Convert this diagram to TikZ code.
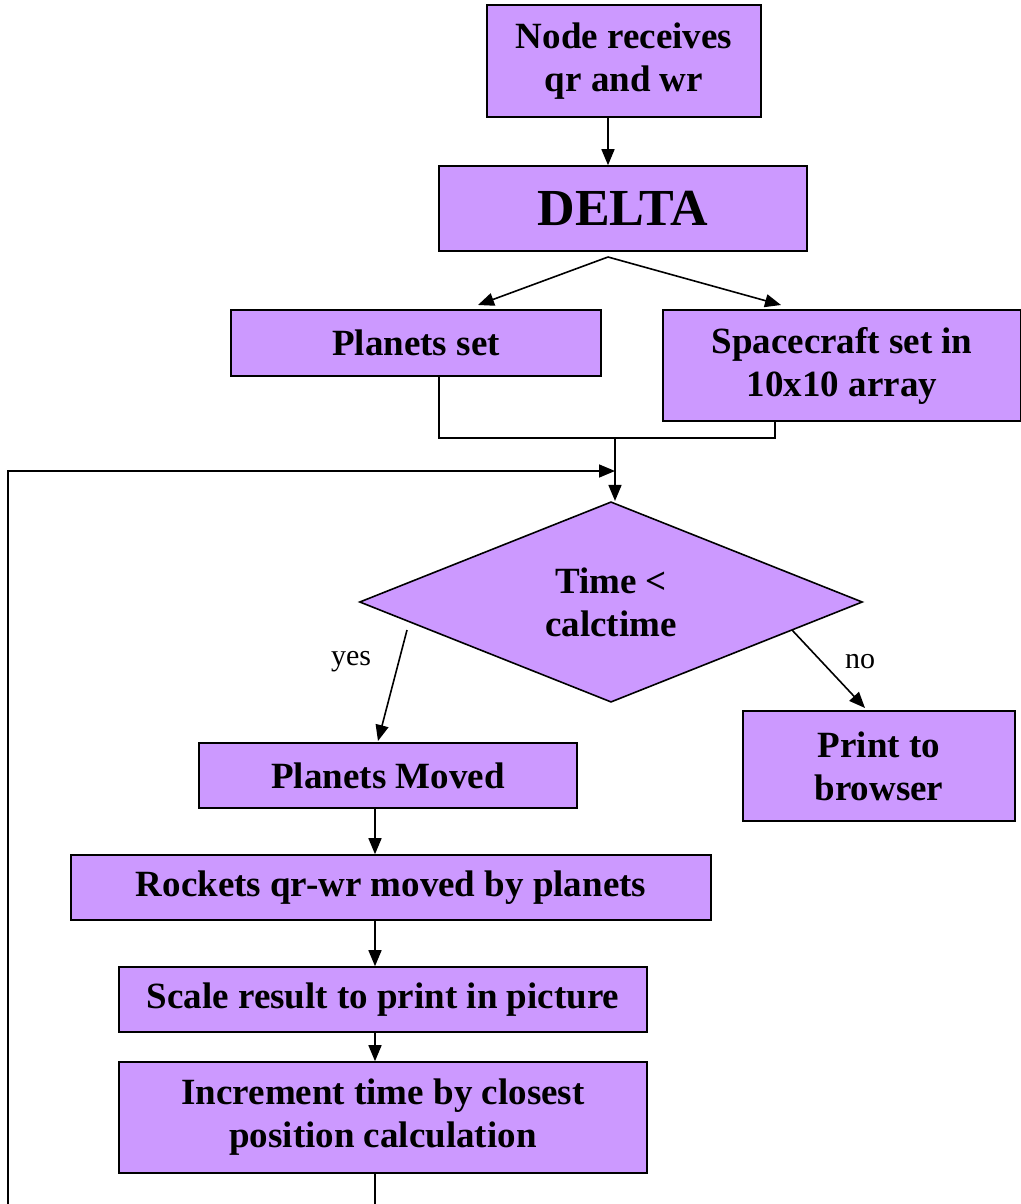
\documentclass[tikz,border=0pt]{standalone}
\usepackage{fontspec}
\setmainfont{Liberation Serif}
\usetikzlibrary{shapes.geometric, arrows.meta}

\definecolor{lilac}{RGB}{204,153,255}

\begin{document}
\begin{tikzpicture}[x=0.5pt, y=-0.5pt,
  box/.style={draw, line width=0.8pt, fill=lilac, align=center, inner sep=0pt,
    font=\bfseries\fontsize{18.5}{21.5}\selectfont},
  arr/.style={line width=0.8pt, -{Triangle[length=8pt, width=6.5pt]}},
  wire/.style={line width=0.8pt},
  lbl/.style={font=\fontsize{15}{17}\selectfont}]
\useasboundingbox (0,0) rectangle (1021,1204);
\clip (0,0) rectangle (1021,1204);

\node[box, minimum width=137pt, minimum height=56pt](recv) at (624,61) {Node receives\\qr and wr};
\node[box, minimum width=184pt, minimum height=42.5pt, font=\bfseries\fontsize{26}{30}\selectfont](delta) at (623,208.5) {DELTA};
\node[box, minimum width=185pt, minimum height=33pt](plan) at (416,343) {Planets set};
\node[box, minimum width=179pt, minimum height=55.5pt](craft) at (842,365.5) {Spacecraft set in\\10x10 array};
\node[box, diamond, minimum width=251.5pt, minimum height=100pt](test) at (611,602) {Time <\\calctime};
\node[box, minimum width=189pt, minimum height=32.5pt](moved) at (388,775.5) {Planets Moved};
\node[box, minimum width=136pt, minimum height=55pt](print) at (879,766) {Print to\\browser};
\node[box, minimum width=320pt, minimum height=32.5pt](rock) at (391,887.5) {Rockets qr-wr moved by planets};
\node[box, minimum width=264pt, minimum height=32.5pt](scale) at (383,999.5) {Scale result to print in picture};
\node[box, minimum width=264pt, minimum height=55.5pt](incr) at (383,1117.5) {Increment time by closest\\position calculation};

% branch points and bends
\coordinate (split) at (608,257);
\coordinate (planIn) at (478,305);
\coordinate (craftIn) at (781,305);
\coordinate (planOut) at (439,438);
\coordinate (craftOut) at (775,438);
\coordinate (join) at (615,438);
\coordinate (loopIn) at (615,471);
\coordinate (back) at (8,471);
\coordinate (yesOut) at (407,630);
\coordinate (yesIn) at (378,741);
\coordinate (noOut) at (792,630);
\coordinate (noIn) at (865,708);
\coordinate (spine) at (375,0);

\draw[arr] (recv.south -| split) -- (delta.north -| split);
\draw[arr] (split) -- (planIn);
\draw[arr] (split) -- (craftIn);
\draw[wire] (plan.south -| planOut) -- (planOut) -- (craftOut) -- (craft.south -| craftOut);
\draw[arr] (join) -- (test.north -| join);
\draw[arr] (yesOut) -- (yesIn);
\draw[arr] (noOut) -- (noIn);
\draw[arr] (moved.south -| spine) -- (rock.north -| spine);
\draw[arr] (rock.south -| spine) -- (scale.north -| spine);
\draw[arr] (scale.south -| spine) -- (incr.north -| spine);
\draw[arr] (incr.south -| spine) -- ++(0,60) -| (back) -- (loopIn);

\node[lbl](yes) at (351,662) {yes};
\node[lbl](no) at (860,662) {no};
\end{tikzpicture}
\end{document}
